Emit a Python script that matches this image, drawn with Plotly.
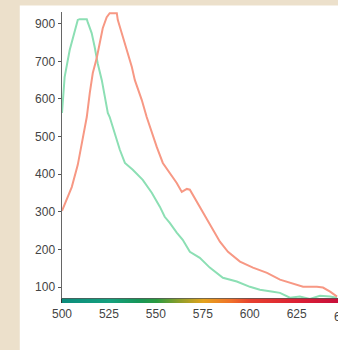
import plotly.graph_objects as go

# Green (emission peak ~510 nm)
green_x = [500, 501.4, 504.1, 506.8, 508.4, 509.4, 513.2, 513.7, 515.8, 517.4, 519.0, 521.2, 522.8,
           524.4, 525.4, 528.1, 530.8, 533.5, 537.7, 543.0, 547.8, 552.1, 554.7, 557.4, 561.1,
           564.3, 568.1, 573.4, 578.7, 585.7, 593.1, 600.1, 605.4, 612.4, 616.1, 621.4, 626.7,
           632.0, 637.4, 642.7, 646.5]
green_y = [563, 658, 730, 783, 810, 812, 812, 804, 775, 738, 695, 650, 605,
           563, 552, 510, 465, 430, 412, 385, 351, 314, 287, 271, 245,
           226, 194, 178, 152, 125, 115, 101, 93, 88, 85, 72, 75,
           69, 77, 75, 72]

# Red (emission peak ~527 nm)
red_x = [500, 502.5, 505.2, 508.4, 511.0, 513.2, 514.8, 516.4, 518.5, 520.1, 521.7, 523.8, 525.4,
         529.2, 529.7, 531.8, 534.5, 537.2, 538.8, 542.5, 545.1, 547.8, 550.5, 553.7, 557.4,
         561.1, 563.8, 566.5, 568.1, 569.7, 573.4, 577.7, 580.4, 584.1, 588.4, 594.8, 601.7,
         609.2, 616.1, 621.4, 628.4, 635.8, 639.0, 642.8, 646.5]
red_y = [303, 332, 366, 425, 491, 552, 616, 669, 709, 749, 788, 817, 828,
         828, 810, 775, 730, 685, 650, 597, 552, 510, 472, 430, 404,
         377, 353, 361, 359, 345, 313, 279, 253, 221, 194, 168, 152,
         138, 120, 112, 101, 101, 99, 88, 75]

x_ticks = [500, 525, 550, 575, 600, 625, 650]
y_tickvals = [100, 200, 300, 400, 500, 600, 700, 800]
y_ticktext = ["100", "200", "300", "400", "500", "600", "700", "900"]

# Spectrum bar under the x axis
spec_wl = [500, 525, 540, 550, 562, 575, 590, 600, 625, 650]
spec_col = ["#0c8c7c", "#15a07e", "#16965a", "#2a9a40", "#8a9e2a", "#e4a21c",
            "#f0702a", "#e6402e", "#dc2034", "#c40c3c"]

XMIN, XMAX = 500, 647.0
colorscale = [[(w - spec_wl[0]) / (spec_wl[-1] - spec_wl[0]), c] for w, c in zip(spec_wl, spec_col)]

fig = go.Figure()

fig.add_trace(go.Heatmap(
    x=spec_wl, y=[0, 1], z=[spec_wl, spec_wl],
    colorscale=colorscale, zmin=spec_wl[0], zmax=spec_wl[-1],
    zsmooth="best", showscale=False, hoverinfo="skip",
    xaxis="x", yaxis="y2"))

fig.add_trace(go.Scatter(x=green_x, y=green_y, mode="lines",
                         line=dict(color="#8cdfb4", width=2), showlegend=False))
fig.add_trace(go.Scatter(x=red_x, y=red_y, mode="lines",
                         line=dict(color="#f79884", width=2), showlegend=False))

font = dict(family="Liberation Sans, Arial, sans-serif", size=12, color="#444444")

fig.update_layout(
    width=338, height=350,
    margin=dict(l=62, r=0, t=12, b=47),
    paper_bgcolor="#ECE0CB",
    plot_bgcolor="rgba(0,0,0,0)",
    showlegend=False,
    font=font,
    xaxis=dict(range=[XMIN, XMAX], tickvals=x_ticks, ticks="outside", ticklen=4,
               tickwidth=1.5, tickcolor="#333333", showline=True, linecolor="#555555",
               linewidth=1, showgrid=False, zeroline=False, anchor="y",
               tickfont=font),
    yaxis=dict(range=[70, 831], domain=[0.0155, 1], tickvals=y_tickvals, ticktext=y_ticktext,
               ticks="outside", ticklen=3, tickcolor="#555555", showline=True,
               linecolor="#666666", linewidth=1.5, showgrid=False, zeroline=False,
               tickfont=font, anchor="x"),
    yaxis2=dict(range=[0, 1], domain=[0, 0.0155], visible=False, anchor="x"),
    shapes=[dict(type="rect", xref="paper", yref="paper",
                 x0=-0.153, x1=1.01, y0=-0.17, y1=1.022,
                 fillcolor="white", line=dict(width=0), layer="below")],
    annotations=[dict(text="650", xref="paper", yref="paper", x=(650 - XMIN) / (XMAX - XMIN),
                      y=0, yshift=-14, showarrow=False, font=font, xanchor="center",
                      yanchor="middle")],
)

fig.write_html("out.html", config={"displayModeBar": False, "staticPlot": True},
               post_script="document.body.style.margin='0';document.body.style.overflow='hidden';")
